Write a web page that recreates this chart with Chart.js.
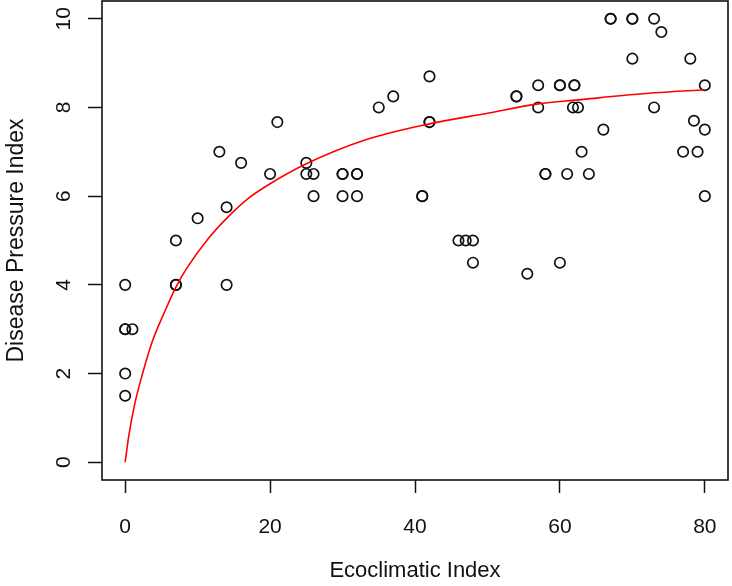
<!DOCTYPE html>
<html>
<head>
<meta charset="utf-8">
<script src="https://cdn.jsdelivr.net/npm/chart.js@4/dist/chart.umd.min.js"></script>
<style>
  html, body { margin: 0; padding: 0; background: #fff; }
  #wrap { width: 732px; height: 586px; position: relative; }
</style>
</head>
<body>
<div id="wrap"><canvas id="chart"></canvas></div>
<script>
const pointX = [0, 0, 0, 1, 0, 0,
    7, 7, 7, 10, 13, 14, 14, 16,
    20, 21, 25, 25, 26, 26,
    30, 30, 30, 32, 32, 32,
    35, 37, 41, 41, 42, 42, 42,
    46, 47, 48, 48,
    54, 54, 55.5, 57, 57, 58, 58,
    60, 60, 60, 61, 62, 62, 61.8, 62.5, 63, 64, 66,
    67, 67, 70, 70, 70, 73, 73, 74,
    77, 78, 78.5, 79, 80, 80, 80];
const pointY = [4, 3, 3, 3, 2, 1.5,
    5, 4, 4, 5.5, 7, 5.75, 4, 6.75,
    6.5, 7.67, 6.75, 6.5, 6.5, 6,
    6.5, 6.5, 6, 6.5, 6.5, 6,
    8, 8.25, 6, 6, 8.7, 7.67, 7.67,
    5, 5, 5, 4.5,
    8.25, 8.25, 4.25, 8.5, 8, 6.5, 6.5,
    8.5, 8.5, 4.5, 6.5, 8.5, 8.5, 8, 8, 7, 6.5, 7.5,
    10, 10, 10, 10, 9.1, 10, 8, 9.7,
    7, 9.1, 7.7, 7, 8.5, 7.5, 6];

// fitted curve
const curveX = [0, 0.5, 1.3, 2.4, 3.8, 5.6, 7, 8.4, 11.5, 14, 17, 20, 25, 33, 42, 50, 57, 62.5, 73, 80];
const curveY = [0, 0.6, 1.3, 2.0, 2.75, 3.45, 3.95, 4.35, 5.05, 5.5, 5.95, 6.28, 6.73, 7.26, 7.63, 7.87, 8.08, 8.17, 8.33, 8.4];

const xTicks = [0, 20, 40, 60, 80];
const yTicks = [0, 2, 4, 6, 8, 10];

const FONT = 'Liberation Sans, Arial, sans-serif';

const toXY = (xs, ys) => xs.map((x, i) => ({ x: x, y: ys[i] }));

// R-style box around the plotting region + rotated y tick labels
const boxPlugin = {
    id: 'box',
    afterDraw(chart) {
        const { ctx, chartArea, scales } = chart;
        ctx.save();
        ctx.strokeStyle = '#111';
        ctx.lineWidth = 1.6;
        ctx.strokeRect(chartArea.left, chartArea.top, chartArea.right - chartArea.left, chartArea.bottom - chartArea.top);

        ctx.fillStyle = '#111';
        ctx.font = '21px ' + FONT;
        ctx.textAlign = 'center';
        ctx.textBaseline = 'middle';
        scales.y.ticks.forEach(t => {
            const py = scales.y.getPixelForValue(t.value);
            ctx.save();
            ctx.translate(64, py);
            ctx.rotate(-Math.PI / 2);
            ctx.fillText(String(t.value), 0, 0);
            ctx.restore();
        });
        ctx.restore();
    }
};

new Chart(document.getElementById('chart').getContext('2d'), {
    type: 'scatter',
    data: {
        datasets: [{
            label: 'fit',
            data: toXY(curveX, curveY),
            showLine: true,
            borderColor: '#ff0000',
            borderWidth: 1.6,
            pointRadius: 0,
            fill: false,
            cubicInterpolationMode: 'monotone'
        }, {
            label: 'obs',
            data: toXY(pointX, pointY),
            pointRadius: 5.2,
            pointBorderWidth: 1.7,
            pointBorderColor: '#111',
            pointBackgroundColor: 'rgba(0,0,0,0)',
            borderColor: '#111',
            backgroundColor: 'rgba(0,0,0,0)'
        }]
    },
    options: {
        responsive: true,
        maintainAspectRatio: false,
        animation: false,
        events: [],
        layout: { autoPadding: false, padding: { top: 1, right: 4, bottom: 1, left: 0 } },
        plugins: { legend: { display: false }, tooltip: { enabled: false } },
        scales: {
            x: {
                type: 'linear',
                min: -3.2,
                max: 83.2,
                afterBuildTicks: s => { s.ticks = xTicks.map(v => ({ value: v })); },
                afterFit: s => { s.height = 105; s.paddingLeft = 0; s.paddingRight = 0; },
                grid: { drawOnChartArea: false, drawTicks: true, tickLength: 13, tickWidth: 1.5, tickColor: '#111' },
                border: { display: false },
                ticks: { color: '#111', font: { family: FONT, size: 21 }, padding: 22, maxRotation: 0 },
                title: { display: true, text: 'Ecoclimatic Index', color: '#111', font: { family: FONT, size: 22 }, padding: { top: 19, bottom: 1 } }
            },
            y: {
                type: 'linear',
                min: -0.4,
                max: 10.4,
                afterBuildTicks: s => { s.ticks = yTicks.map(v => ({ value: v })); },
                afterFit: s => { s.width = 102; s.paddingTop = 0; s.paddingBottom = 0; },
                grid: { drawOnChartArea: false, drawTicks: true, tickLength: 14, tickWidth: 1.5, tickColor: '#111' },
                border: { display: false },
                ticks: { display: false },
                title: { display: true, text: 'Disease Pressure Index', color: '#111', font: { family: FONT, size: 23 }, padding: { top: 3, bottom: 0 } }
            }
        }
    },
    plugins: [boxPlugin]
});
</script>
</body>
</html>
